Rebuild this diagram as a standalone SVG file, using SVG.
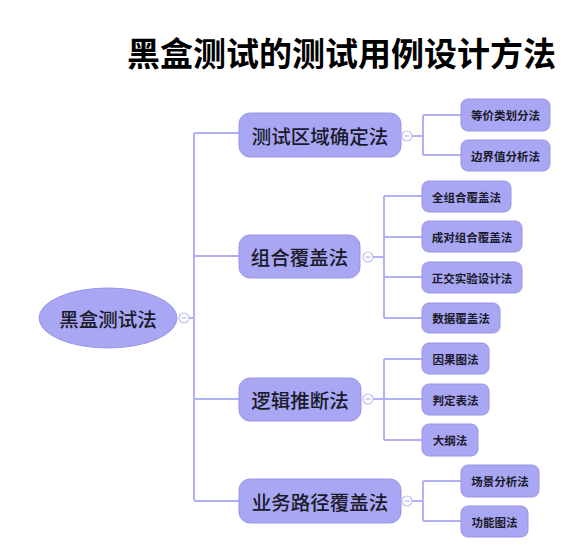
<svg xmlns="http://www.w3.org/2000/svg" width="566" height="551" viewBox="0 0 566 551">
<style>
text{font-family:"Noto Sans CJK SC","Noto Sans",sans-serif;fill:#1a1a2a;text-anchor:middle;dominant-baseline:central}
.title{font-size:33px;font-weight:700;fill:#000;text-anchor:start}
.n0{fill:#a9a7f3;stroke:#9896e6;stroke-width:1}
.t0{font-size:19.5px;font-weight:500}
.t1{font-size:19.5px;font-weight:500}
.t2{font-size:11.5px;font-weight:600}
.c line,.c path{stroke:#b3b1f5;stroke-width:2;fill:none}
.tog circle{fill:#fff;stroke:#c2c0f5;stroke-width:1.2}
.tog line{stroke:#a9a7e8;stroke-width:1}
</style>
<text class="title" x="127" y="52">黑盒测试的测试用例设计方法</text>
<g id="connectors" class="c">
<path d="M189 318H194M194 133V500M194 133H239M194 256H239M194 399H239M194 501H239"/>
<path d="M412 136H423M423 115V155M423 115H461M423 155H461"/>
<path d="M373 257H384M384 196V318M384 196H422M384 237H422M384 277H422M384 318H422"/>
<path d="M373 399H384M384 359V440M384 359H422M384 399H422M384 440H422"/>
<path d="M412 501H423M423 481V521M423 481H461M423 521H461"/>
</g>
<g id="root">
<ellipse class="n0" cx="108" cy="318" rx="69" ry="30"/>
<text class="t0" x="108" y="318">黑盒测试法</text>
<g class="tog"><circle cx="184" cy="318" r="5"/><line x1="181.5" y1="318" x2="186.5" y2="318"/></g>
</g>
<g id="n1">
<rect class="n0" x="239" y="113" width="162" height="44" rx="11"/>
<text class="t1" x="320" y="135">测试区域确定法</text>
<g class="tog"><circle cx="407" cy="136" r="5"/><line x1="404.5" y1="136" x2="409.5" y2="136"/></g>
</g>
<g id="n2">
<rect class="n0" x="239" y="235" width="121" height="43" rx="11"/>
<text class="t1" x="299.5" y="256.5">组合覆盖法</text>
<g class="tog"><circle cx="368" cy="257" r="5"/><line x1="365.5" y1="257" x2="370.5" y2="257"/></g>
</g>
<g id="n3">
<rect class="n0" x="239" y="378" width="122" height="43" rx="11"/>
<text class="t1" x="300" y="399.5">逻辑推断法</text>
<g class="tog"><circle cx="368" cy="399" r="5"/><line x1="365.5" y1="399" x2="370.5" y2="399"/></g>
</g>
<g id="n4">
<rect class="n0" x="239" y="479" width="162" height="44" rx="11"/>
<text class="t1" x="320" y="501">业务路径覆盖法</text>
<g class="tog"><circle cx="407" cy="501" r="5"/><line x1="404.5" y1="501" x2="409.5" y2="501"/></g>
</g>
<g id="n1a"><rect class="n0" x="461" y="99" width="89" height="32" rx="7"/><text class="t2" x="505.5" y="115">等价类划分法</text></g>
<g id="n1b"><rect class="n0" x="461" y="140" width="89" height="31" rx="7"/><text class="t2" x="505.5" y="155.5">边界值分析法</text></g>
<g id="n2a"><rect class="n0" x="422" y="181" width="89" height="31" rx="7"/><text class="t2" x="466.5" y="196.5">全组合覆盖法</text></g>
<g id="n2b"><rect class="n0" x="422" y="221" width="100" height="31" rx="7"/><text class="t2" x="472" y="236.5">成对组合覆盖法</text></g>
<g id="n2c"><rect class="n0" x="422" y="262" width="100" height="31" rx="7"/><text class="t2" x="472" y="277.5">正交实验设计法</text></g>
<g id="n2d"><rect class="n0" x="422" y="303" width="78" height="30" rx="7"/><text class="t2" x="461" y="318">数据覆盖法</text></g>
<g id="n3a"><rect class="n0" x="422" y="343" width="67" height="31" rx="7"/><text class="t2" x="455.5" y="358.5">因果图法</text></g>
<g id="n3b"><rect class="n0" x="422" y="384" width="67" height="31" rx="7"/><text class="t2" x="455.5" y="399.5">判定表法</text></g>
<g id="n3c"><rect class="n0" x="422" y="424" width="56" height="32" rx="7"/><text class="t2" x="450" y="440">大纲法</text></g>
<g id="n4a"><rect class="n0" x="461" y="465" width="78" height="32" rx="7"/><text class="t2" x="500" y="481">场景分析法</text></g>
<g id="n4b"><rect class="n0" x="461" y="506" width="67" height="31" rx="7"/><text class="t2" x="494.5" y="521.5">功能图法</text></g>
</svg>
